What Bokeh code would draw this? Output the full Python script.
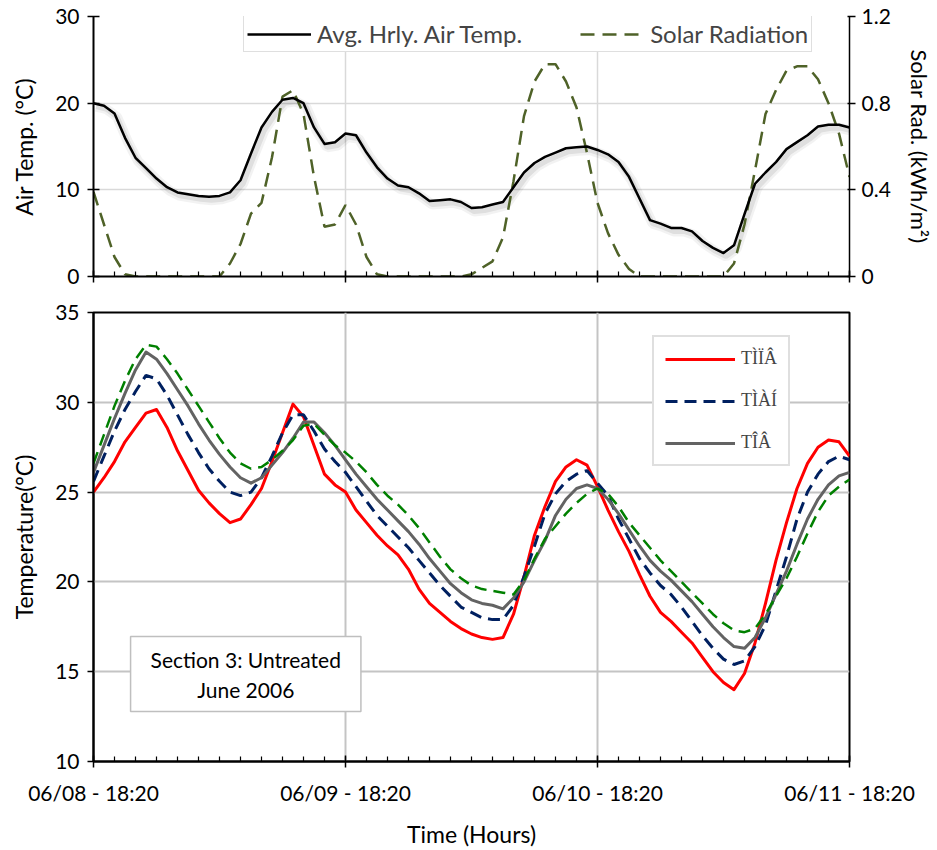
import numpy as np
from bokeh.plotting import figure
from bokeh.models import Range1d, LinearAxis, FixedTicker, Legend, LegendItem, Label
from bokeh.layouts import column
from bokeh.embed import file_html
from bokeh.resources import INLINE

# ---------------- data ----------------
hours = list(range(73))  # hours since 06/08 18:20

air_temp = [20.0, 19.7, 18.8, 16.0, 13.7, 12.5, 11.3, 10.3, 9.7, 9.5,
            9.3, 9.2, 9.3, 9.7, 11.1, 14.2, 17.2, 19.0, 20.4, 20.6,
            20.0, 17.2, 15.3, 15.5, 16.5, 16.3, 14.3, 12.6, 11.3, 10.5,
            10.3, 9.6, 8.7, 8.8, 8.9, 8.6, 7.9, 8.0, 8.3, 8.6,
            10.3, 12.0, 13.1, 13.8, 14.3, 14.8, 14.9, 15.0, 14.6, 14.1,
            13.2, 11.5, 9.0, 6.5, 6.1, 5.6, 5.6, 5.2, 4.1, 3.3,
            2.7, 3.6, 7.2, 10.7, 12.0, 13.2, 14.7, 15.5, 16.3, 17.3,
            17.5, 17.5, 17.2]

solar_rad = [0.39, 0.24, 0.09, 0.01, 0.0, 0.0, 0.0, 0.0, 0.0, 0.0,
             0.0, 0.0, 0.0, 0.06, 0.15, 0.29, 0.34, 0.55, 0.83, 0.86,
             0.75, 0.46, 0.23, 0.24, 0.33, 0.24, 0.09, 0.01, 0.0, 0.0,
             0.0, 0.0, 0.0, 0.0, 0.0, 0.0, 0.01, 0.04, 0.07, 0.18,
             0.44, 0.74, 0.90, 0.98, 0.98, 0.90, 0.78, 0.57, 0.34, 0.20,
             0.10, 0.035, 0.0, 0.0, 0.0, 0.0, 0.0, 0.0, 0.0, 0.0,
             0.0, 0.06, 0.24, 0.49, 0.75, 0.86, 0.95, 0.97, 0.97, 0.91,
             0.80, 0.66, 0.46]

t_red = [25.0, 25.8, 26.7, 27.8, 28.6, 29.4, 29.6, 28.6, 27.3, 26.2,
         25.1, 24.4, 23.8, 23.3, 23.5, 24.3, 25.2, 26.7, 28.3, 29.9,
         29.2, 27.6, 26.0, 25.4, 25.0, 24.0, 23.3, 22.6, 22.0, 21.5,
         20.7, 19.6, 18.8, 18.3, 17.8, 17.4, 17.1, 16.9, 16.8, 16.9,
         18.2, 20.3, 22.6, 24.2, 25.6, 26.4, 26.8, 26.5, 25.3, 24.0,
         22.8, 21.7, 20.4, 19.2, 18.3, 17.8, 17.2, 16.6, 15.8, 15.0,
         14.4, 14.0, 14.9, 16.6, 18.8, 21.2, 23.3, 25.2, 26.6, 27.5,
         27.9, 27.8, 27.0]

t_navy = [25.6, 27.0, 28.4, 29.6, 30.6, 31.5, 31.3, 30.4, 29.3, 28.2,
          27.2, 26.3, 25.6, 25.0, 24.8, 25.0, 25.8, 27.0, 28.3, 29.3,
          29.3, 28.4, 27.4, 26.7, 26.1, 25.3, 24.5, 23.7, 23.1, 22.5,
          21.9, 21.2, 20.5, 19.8, 19.2, 18.6, 18.3, 18.0, 17.9, 17.9,
          18.7, 20.3, 22.0, 23.8, 24.9, 25.6, 26.0, 26.2, 25.5, 24.8,
          23.5, 22.4, 21.3, 20.5, 19.8, 19.3, 18.6, 17.8, 17.0, 16.3,
          15.7, 15.4, 15.6, 16.4, 17.6, 19.5, 21.4, 23.5, 25.0, 26.0,
          26.7, 27.0, 26.8]

t_gray = [26.1, 27.6, 29.1, 30.5, 31.8, 32.8, 32.4, 31.6, 30.7, 29.8,
          28.8, 27.9, 27.1, 26.4, 25.8, 25.5, 25.8, 26.5, 27.2, 28.0,
          28.9, 28.9, 28.3, 27.6, 26.8, 26.0, 25.3, 24.6, 24.0, 23.4,
          22.8, 22.1, 21.3, 20.6, 19.9, 19.4, 19.0, 18.8, 18.7, 18.5,
          19.1, 20.0, 21.2, 22.3, 23.7, 24.6, 25.2, 25.4, 25.2, 24.6,
          23.8, 22.9, 22.0, 21.2, 20.6, 20.1, 19.5, 18.9, 18.2, 17.5,
          16.9, 16.4, 16.3, 16.9, 18.0, 19.3, 20.6, 22.1, 23.5, 24.6,
          25.4, 25.9, 26.1]

t_green = [26.6, 28.2, 29.8, 31.2, 32.4, 33.2, 33.1, 32.4, 31.6, 30.7,
           29.8, 28.9, 28.0, 27.2, 26.6, 26.3, 26.4, 26.8, 27.3, 27.9,
           28.7, 28.8, 28.2, 27.6, 27.2, 26.7, 26.1, 25.4, 24.8, 24.3,
           23.7, 23.0, 22.2, 21.4, 20.7, 20.2, 19.8, 19.6, 19.5, 19.4,
           19.3, 20.1, 21.3, 22.4, 23.1, 23.8, 24.4, 24.9, 25.2, 24.9,
           24.2, 23.3, 22.6, 21.9, 21.2, 20.6, 20.0, 19.4, 18.8, 18.2,
           17.7, 17.3, 17.2, 17.4, 18.2, 19.2, 20.2, 21.4, 22.7, 23.9,
           24.8, 25.3, 25.7]

x_ticks = [0, 24, 48, 72]
x_tick_labels = ["06/08 - 18:20", "06/09 - 18:20", "06/10 - 18:20", "06/11 - 18:20"]
series_names = ["TÌÏÂ", "TÌÀÍ", "TÎÂ"]
top_legend_names = ["Avg. Hrly. Air Temp.", "Solar Radiation"]
box_text = "Section 3: Untreated\nJune 2006"

FONT = "Lato"
W = 937


def style_axis(ax, tick_in=6, tick_out=6):
    ax.axis_line_color = "black"
    ax.axis_line_width = 2
    ax.major_tick_line_color = "black"
    ax.major_tick_line_width = 1.5
    ax.major_tick_in = tick_in
    ax.major_tick_out = tick_out
    ax.minor_tick_line_color = None
    ax.major_label_text_font = FONT
    ax.major_label_text_font_size = "21px"
    ax.major_label_text_color = "black"
    ax.axis_label_text_font = FONT
    ax.axis_label_text_font_size = "23px"
    ax.axis_label_text_font_style = "normal"
    ax.axis_label_text_color = "black"


def style_xaxis(ax):
    style_axis(ax)
    ax.ticker = FixedTicker(ticks=x_ticks, minor_ticks=list(range(0, 73, 2)))
    ax.minor_tick_line_color = "black"
    ax.minor_tick_line_width = 1.2
    ax.minor_tick_in = 5
    ax.minor_tick_out = 0


# ---------------- top panel ----------------
p1 = figure(width=W, height=290, x_range=Range1d(0, 72), y_range=Range1d(0, 30),
            output_backend="svg", toolbar_location=None,
            min_border_left=93, min_border_right=88, min_border_top=16, min_border_bottom=14)
p1.outline_line_color = None
p1.extra_y_ranges = {"solar": Range1d(0, 1.2)}

h_arr = np.array(hours, dtype=float)
a_arr = np.array(air_temp)
# soft drop shadow of the air temperature line
p1.line(h_arr + 0.25, a_arr - 0.4, color="black", alpha=0.05, line_width=10)
p1.line(h_arr + 0.25, a_arr - 0.4, color="black", alpha=0.08, line_width=5)

r_solar = p1.line(hours, solar_rad, y_range_name="solar", color="#4f6228",
                  line_width=2.5, line_dash="14 8")
r_air = p1.line(hours, air_temp, color="black", line_width=2.5, line_join="round")

tx = p1.xaxis[0]
style_xaxis(tx)
tx.major_label_overrides = {t: "" for t in x_ticks}
tx.major_label_standoff = 0

ly = p1.yaxis[0]
style_axis(ly)
ly.ticker = FixedTicker(ticks=[0, 10, 20, 30])
ly.axis_label = "Air Temp. (°C)"
ly.major_label_standoff = 8
ly.axis_label_standoff = 14

ry = LinearAxis(y_range_name="solar", axis_label="Solar Rad. (kWh/m²)")
style_axis(ry, tick_in=2, tick_out=6)
ry.axis_line_width = 1.5
ry.axis_label_text_font_size = "22px"
ry.ticker = FixedTicker(ticks=[0, 0.4, 0.8, 1.2])
ry.major_label_overrides = {0: "0", 0.4: "0.4", 0.8: "0.8", 1.2: "1.2"}
ry.major_label_standoff = 6
ry.axis_label_standoff = 12
p1.add_layout(ry, "right")

p1.xgrid.ticker = FixedTicker(ticks=[24, 48])
p1.ygrid.ticker = FixedTicker(ticks=[10, 20])
for g in (p1.xgrid[0], p1.ygrid[0]):
    g.grid_line_color = "#d9d9d9"
    g.grid_line_width = 1.5

leg1 = Legend(items=[LegendItem(label=top_legend_names[0], renderers=[r_air]),
                     LegendItem(label=top_legend_names[1], renderers=[r_solar])],
              orientation="horizontal", location=(150, 224),
              border_line_color="#bfbfbf", border_line_width=1.5,
              background_fill_color="white", background_fill_alpha=1.0,
              padding=3, spacing=58, margin=0,
              glyph_width=64, glyph_height=22, label_height=22, label_standoff=6,
              label_text_font=FONT, label_text_font_size="24px")
p1.add_layout(leg1)

# ---------------- bottom panel ----------------
p2 = figure(width=W, height=560, x_range=Range1d(0, 72), y_range=Range1d(10, 35),
            output_backend="svg", toolbar_location=None,
            min_border_left=93, min_border_right=86, min_border_top=22, min_border_bottom=86)
p2.outline_line_color = "black"
p2.outline_line_width = 2

r_red = p2.line(hours, t_red, color="#ff0000", line_width=3, line_join="round")
r_navy = p2.line(hours, t_navy, color="#002060", line_width=3, line_dash="12 7")
r_gray = p2.line(hours, t_gray, color="#636363", line_width=3, line_join="round")
r_green = p2.line(hours, t_green, color="#008000", line_width=2.5, line_dash="12 7")

bx = p2.xaxis[0]
style_xaxis(bx)
bx.major_label_overrides = {t: lab for t, lab in zip(x_ticks, x_tick_labels)}
bx.major_label_standoff = 12
bx.axis_label = "Time (Hours)"
bx.axis_label_standoff = 12

by = p2.yaxis[0]
style_axis(by, tick_in=0, tick_out=6)
by.ticker = FixedTicker(ticks=[10, 15, 20, 25, 30, 35])
by.axis_label = "Temperature(°C)"
by.major_label_standoff = 8
by.axis_label_standoff = 14

p2.xgrid.ticker = FixedTicker(ticks=[24, 48])
p2.ygrid.ticker = FixedTicker(ticks=[15, 20, 25, 30])
for g in (p2.xgrid[0], p2.ygrid[0]):
    g.grid_line_color = "#c4c4c4"
    g.grid_line_width = 2

leg2 = Legend(items=[LegendItem(label=series_names[0], renderers=[r_red]),
                     LegendItem(label=series_names[1], renderers=[r_navy]),
                     LegendItem(label=series_names[2], renderers=[r_gray])],
              location=(559, 295), orientation="vertical",
              border_line_color="#bfbfbf", border_line_width=2,
              background_fill_color="white", background_fill_alpha=1.0,
              padding=11, spacing=21, margin=0,
              glyph_width=70, glyph_height=20, label_height=20, label_standoff=6,
              label_text_font="Liberation Serif", label_text_font_size="18px")
p2.add_layout(leg2)

lab = Label(x=14.5, y=14.87, text=box_text, text_align="center", text_baseline="middle",
            text_font=FONT, text_font_size="21px", text_color="black",
            background_fill_color="white", border_line_color="#bfbfbf", border_line_width=1.5,
            padding=(20, 10))
p2.add_layout(lab)

layout = column(p1, p2, spacing=0)
open("out.html", "w").write(file_html(layout, INLINE))
